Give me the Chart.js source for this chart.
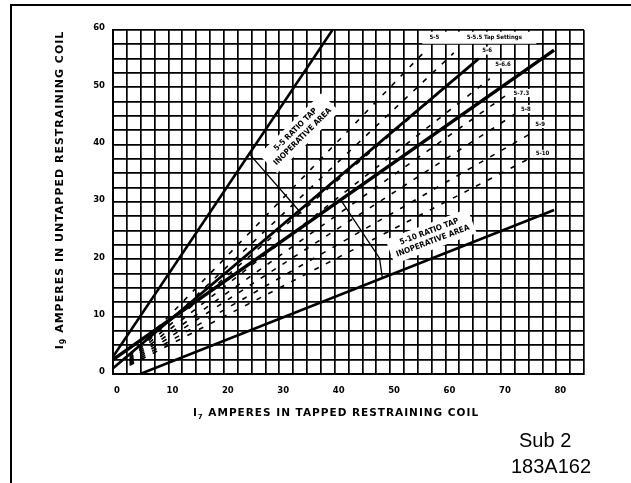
<!DOCTYPE html>
<html>
<head>
<meta charset="utf-8">
<script src="https://cdn.jsdelivr.net/npm/chart.js@4.4.1/dist/chart.umd.min.js"></script>
<style>
  html, body { margin: 0; padding: 0; background: #fff; }
  #wrap { position: relative; width: 631px; height: 483px; overflow: hidden; }
  canvas { display: block; }
</style>
</head>
<body>
<div id="wrap"><canvas id="tap-chart" width="631" height="483"></canvas></div>
<script>
// axis tick labels
const xTickLabels = [0, 10, 20, 30, 40, 50, 60, 70, 80];
const yTickLabels = [0, 10, 20, 30, 40, 50, 60];

// solid boundary lines (I7, I9)
const steepX = [0, 39.6];
const steepY = [3, 60];
const upper55X = [0, 66];
const upper55Y = [1, 55];
const upper510X = [0, 79.6];
const upper510Y = [2.5, 56.5];
const lowerX = [4.9, 79.6];
const lowerY = [0, 28.6];

// leader lines across the inoperative areas
const leader55X = [24.6, 34];
const leader55Y = [38.4, 28];
const leader510X = [41, 48.1, 48.6];
const leader510Y = [30.5, 20.2, 16.8];

// dashed tap setting lines
const tapNames = ['5-5', '5-5.5', '5-6', '5-6.6', '5-7.3', '5-8', '5-9', '5-10'];
const tapStartX = [3, 3, 3, 3, 3, 3, 3, 3];
const tapStartY = [3, 2.7, 2.5, 2.3, 2.1, 1.9, 1.7, 1.5];
const tapEndX = [56, 61.5, 66, 68, 71.5, 72.5, 75.5, 76];
const tapEndY = [56, 56, 55, 51.5, 49, 45.3, 42, 38];

const toPoints = (xs, ys) => xs.map((x, i) => ({ x: x, y: ys[i] }));

const solid = (label, xs, ys, w) => ({
  label: label,
  data: toPoints(xs, ys),
  showLine: true,
  borderColor: '#000',
  borderWidth: w,
  pointRadius: 0,
  fill: false
});

const datasets = [];
tapNames.forEach((name, i) => {
  datasets.push({
    label: name,
    data: toPoints([tapStartX[i], tapEndX[i]], [tapStartY[i], tapEndY[i]]),
    showLine: true,
    borderColor: '#000',
    borderWidth: 1.6,
    borderDash: [5, 8],
    pointRadius: 0,
    fill: false
  });
});
datasets.push(solid('steep', steepX, steepY, 2.6));
datasets.push(solid('upper 5-5', upper55X, upper55Y, 2.8));
datasets.push(solid('upper 5-10', upper510X, upper510Y, 3.4));
datasets.push(solid('lower', lowerX, lowerY, 2.6));
datasets.push(solid('leader 5-5', leader55X, leader55Y, 1.3));
datasets.push(solid('leader 5-10', leader510X, leader510Y, 1.3));

// draws "I" + subscript + rest, centred at (cx, cy) with rotation
function subTitle(ctx, sub, rest, cx, cy, rot, size, spacing) {
  const big = 'bold ' + size + 'px "DejaVu Sans"';
  const small = 'bold ' + Math.round(size * 0.7) + 'px "DejaVu Sans"';
  ctx.save();
  ctx.translate(cx, cy);
  ctx.rotate(rot);
  ctx.letterSpacing = spacing + 'px';
  ctx.font = big;
  const wI = ctx.measureText('I').width;
  const wRest = ctx.measureText(rest).width;
  ctx.font = small;
  const wSub = ctx.measureText(sub).width;
  let x = -(wI + wSub + wRest) / 2;
  ctx.fillStyle = '#000';
  ctx.textBaseline = 'middle';
  ctx.textAlign = 'left';
  ctx.font = big;
  ctx.fillText('I', x, 0);
  x += wI;
  ctx.font = small;
  ctx.fillText(sub, x, 4);
  x += wSub;
  ctx.font = big;
  ctx.fillText(rest, x, 0);
  ctx.restore();
}

function boxLabel(ctx, text, cx, cy, font) {
  ctx.font = font;
  const w = ctx.measureText(text).width;
  ctx.fillStyle = '#fff';
  ctx.fillRect(cx - w / 2 - 2, cy - 4, w + 4, 8);
  ctx.fillStyle = '#000';
  ctx.textAlign = 'center';
  ctx.textBaseline = 'middle';
  ctx.fillText(text, cx, cy);
}

function areaLabel(ctx, l1, l2, cx, cy, rot) {
  ctx.save();
  ctx.translate(cx, cy);
  ctx.rotate(rot);
  ctx.font = 'bold 8px "DejaVu Sans Condensed", "DejaVu Sans"';
  const w = Math.max(ctx.measureText(l1).width, ctx.measureText(l2).width);
  ctx.fillStyle = '#fff';
  ctx.fillRect(-w / 2 - 5, -13, w + 10, 26);
  ctx.fillStyle = '#000';
  ctx.textAlign = 'center';
  ctx.textBaseline = 'middle';
  ctx.fillText(l1, 0, -5);
  ctx.fillText(l2, 0, 5);
  ctx.restore();
}

const decorPlugin = {
  id: 'decor',
  afterDatasetsDraw(chart) {
    const ctx = chart.ctx;
    const xs = chart.scales.x;
    const ys = chart.scales.y;
    const px = v => xs.getPixelForValue(v);
    const py = v => ys.getPixelForValue(v);
    ctx.save();
    // tap settings header strip
    ctx.fillStyle = '#fff';
    ctx.fillRect(px(55.8), py(59.7), px(76.4) - px(55.8), py(57.6) - py(59.7));
    const tf = 'bold 6px "DejaVu Sans Condensed", "DejaVu Sans"';
    boxLabel(ctx, '5-5', px(58), py(58.7), tf);
    boxLabel(ctx, '5-5.5 Tap Settings', px(68.8), py(58.7), tf);
    boxLabel(ctx, '5-6', px(67.5), py(56.4), tf);
    boxLabel(ctx, '5-6.6', px(70.4), py(54), tf);
    boxLabel(ctx, '5-7.3', px(73.7), py(49), tf);
    boxLabel(ctx, '5-8', px(74.5), py(46.2), tf);
    boxLabel(ctx, '5-9', px(77.1), py(43.6), tf);
    boxLabel(ctx, '5-10', px(77.5), py(38.4), tf);
    // inoperative areas
    areaLabel(ctx, '5-5 RATIO TAP', 'INOPERATIVE AREA', px(33.6), py(42), -0.78);
    areaLabel(ctx, '5-10 RATIO TAP', 'INOPERATIVE AREA', px(57.4), py(24), -0.36);
    ctx.restore();
  },
  afterDraw(chart) {
    const ctx = chart.ctx;
    ctx.save();
    // outer frame
    ctx.strokeStyle = '#000';
    ctx.lineWidth = 2;
    ctx.beginPath();
    ctx.moveTo(11, 490);
    ctx.lineTo(11, 5);
    ctx.lineTo(640, 5);
    ctx.stroke();
    // axis titles
    subTitle(ctx, '9', ' AMPERES IN UNTAPPED RESTRAINING COIL', 60, 190, -Math.PI / 2, 11, 1);
    subTitle(ctx, '7', ' AMPERES IN TAPPED RESTRAINING COIL', 336, 413, 0, 10.5, 1);
    // drawing number
    ctx.fillStyle = '#000';
    ctx.font = '20px "Liberation Sans", Arial, sans-serif';
    ctx.textAlign = 'left';
    ctx.textBaseline = 'alphabetic';
    ctx.fillText('Sub 2', 519, 447);
    ctx.fillText('183A162', 511, 473);
    ctx.restore();
  }
};

const tickFont = { family: '"DejaVu Sans"', size: 8.5, weight: 'bold' };

new Chart(document.getElementById('tap-chart').getContext('2d'), {
  type: 'scatter',
  data: { datasets: datasets },
  options: {
    responsive: false,
    animation: false,
    layout: { padding: { left: 0, top: 30, right: 47, bottom: 0 } },
    plugins: {
      legend: { display: false },
      tooltip: { enabled: false }
    },
    scales: {
      x: {
        type: 'linear',
        min: 0,
        max: 85,
        afterFit: s => { s.height = 109; },
        border: { display: true, color: '#000', width: 2 },
        grid: { color: '#000', lineWidth: 1.7, drawTicks: false },
        ticks: {
          stepSize: 2.5,
          autoSkip: false,
          maxTicksLimit: 100,
          maxRotation: 0,
          padding: 12,
          labelOffset: 4,
          color: '#000',
          font: tickFont,
          callback: v => xTickLabels.includes(v) ? String(v) : ''
        }
      },
      y: {
        type: 'linear',
        min: 0,
        max: 60,
        afterFit: s => { s.width = 113; },
        border: { display: true, color: '#000', width: 2 },
        grid: { color: '#000', lineWidth: 1.7, drawTicks: false },
        ticks: {
          stepSize: 2.5,
          autoSkip: false,
          maxTicksLimit: 100,
          padding: 8,
          labelOffset: -2,
          color: '#000',
          font: tickFont,
          callback: v => yTickLabels.includes(v) ? String(v) : ''
        }
      }
    }
  },
  plugins: [decorPlugin]
});
</script>
</body>
</html>
